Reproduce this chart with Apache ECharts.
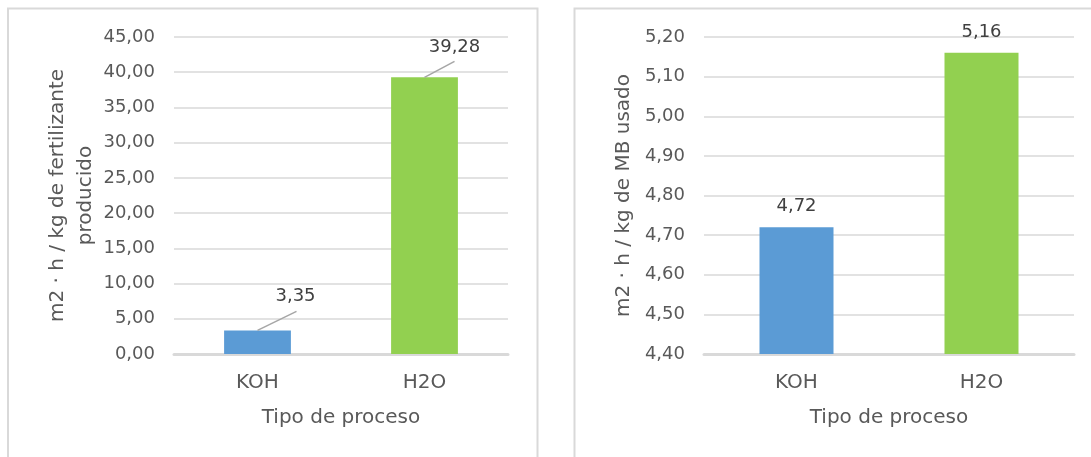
<!DOCTYPE html>
<html>
<head>
<meta charset="utf-8">
<script src="https://cdn.jsdelivr.net/npm/echarts@6/dist/echarts.min.js"></script>
<style>
  html, body { margin: 0; padding: 0; background: #ffffff; }
  #chart { width: 1091px; height: 457px; }
</style>
</head>
<body>
<div id="chart"></div>
<script>
// Process types compared in both panels
const categories = ['KOH', 'H2O'];
// m2 · h per kg of fertiliser produced
const fertilizerValues = [3.35, 39.28];
// m2 · h per kg of MB used
const mbValues = [4.72, 5.16];
// Value-axis ranges
const fertilizerAxis = { min: 0, max: 45, step: 5 };
const mbAxis = { min: 4.4, max: 5.2, step: 0.1 };

const barColors = ['#5B9BD5', '#92D050'];
const FONT = 'DejaVu Sans';
const GRID_COLOR = '#d9d9d9';
const TEXT_COLOR = '#595959';
const LABEL_COLOR = '#404040';

// Data labels of the left panel sit up and to the right of their bars, joined by a leader line
const leftLabelOffsets = [[38, -20], [30, -16]];
const leftLeaderEnds = [[39, -19], [30, -16]];

const fmt = v => v.toFixed(2).replace('.', ',');

function valueAxis(gridIndex, range, title, nameGap) {
  return {
    type: 'value',
    gridIndex,
    min: range.min,
    max: range.max,
    interval: range.step,
    name: title,
    nameLocation: 'middle',
    nameRotate: 90,
    nameGap,
    nameTextStyle: { fontFamily: FONT, fontSize: 20, color: TEXT_COLOR, lineHeight: 28 },
    axisLine: { show: false },
    axisTick: { show: false },
    axisLabel: { fontFamily: FONT, fontSize: 18, color: TEXT_COLOR, margin: 19, formatter: fmt },
    splitLine: { lineStyle: { color: GRID_COLOR, width: 1.5 } }
  };
}

function categoryAxis(gridIndex) {
  return {
    type: 'category',
    gridIndex,
    data: categories,
    name: 'Tipo de proceso',
    nameLocation: 'middle',
    nameGap: 54,
    nameTextStyle: { fontFamily: FONT, fontSize: 20, color: TEXT_COLOR },
    axisLine: { lineStyle: { color: GRID_COLOR, width: 3 } },
    axisTick: { show: false },
    axisLabel: { fontFamily: FONT, fontSize: 20, color: TEXT_COLOR, margin: 19 }
  };
}

const chart = echarts.init(document.getElementById('chart'), null, { renderer: 'canvas' });

chart.setOption({
  animation: false,
  backgroundColor: '#ffffff',
  grid: [
    { left: 174, right: 583, top: 37, bottom: 103 },
    { left: 704, right: 17, top: 37, bottom: 103 }
  ],
  xAxis: [categoryAxis(0), categoryAxis(1)],
  yAxis: [
    valueAxis(0, fertilizerAxis, 'm2 · h / kg de fertilizante\nproducido', 66),
    valueAxis(1, mbAxis, 'm2 · h / kg de MB usado', 66)
  ],
  series: [
    {
      type: 'bar',
      xAxisIndex: 0,
      yAxisIndex: 0,
      barWidth: '40%',
      data: fertilizerValues.map((v, i) => ({
        value: v,
        itemStyle: { color: barColors[i] },
        label: { offset: leftLabelOffsets[i] }
      })),
      label: {
        show: true,
        position: 'top',
        distance: 5,
        fontFamily: FONT,
        fontSize: 18,
        color: LABEL_COLOR,
        formatter: p => fmt(p.value)
      }
    },
    {
      type: 'bar',
      xAxisIndex: 1,
      yAxisIndex: 1,
      barWidth: '40%',
      data: mbValues.map((v, i) => ({ value: v, itemStyle: { color: barColors[i] } })),
      label: {
        show: true,
        position: 'top',
        distance: 12,
        fontFamily: FONT,
        fontSize: 18,
        color: LABEL_COLOR,
        formatter: p => fmt(p.value)
      }
    }
  ]
});

// Panel frames and leader lines for the moved labels
const graphics = [
  { type: 'rect', silent: true, z: 0,
    shape: { x: 8, y: 8.5, width: 529.5, height: 460 },
    style: { fill: null, stroke: GRID_COLOR, lineWidth: 2 } },
  { type: 'rect', silent: true, z: 0,
    shape: { x: 574.5, y: 8.5, width: 530, height: 460 },
    style: { fill: null, stroke: GRID_COLOR, lineWidth: 2 } }
];
fertilizerValues.forEach((v, i) => {
  const p = chart.convertToPixel({ xAxisIndex: 0, yAxisIndex: 0 }, [categories[i], v]);
  graphics.push({
    type: 'line', silent: true, z: 10,
    shape: { x1: p[0], y1: p[1], x2: p[0] + leftLeaderEnds[i][0], y2: p[1] + leftLeaderEnds[i][1] },
    style: { stroke: '#a6a6a6', lineWidth: 1.5 }
  });
});
chart.setOption({ graphic: graphics });
</script>
</body>
</html>
